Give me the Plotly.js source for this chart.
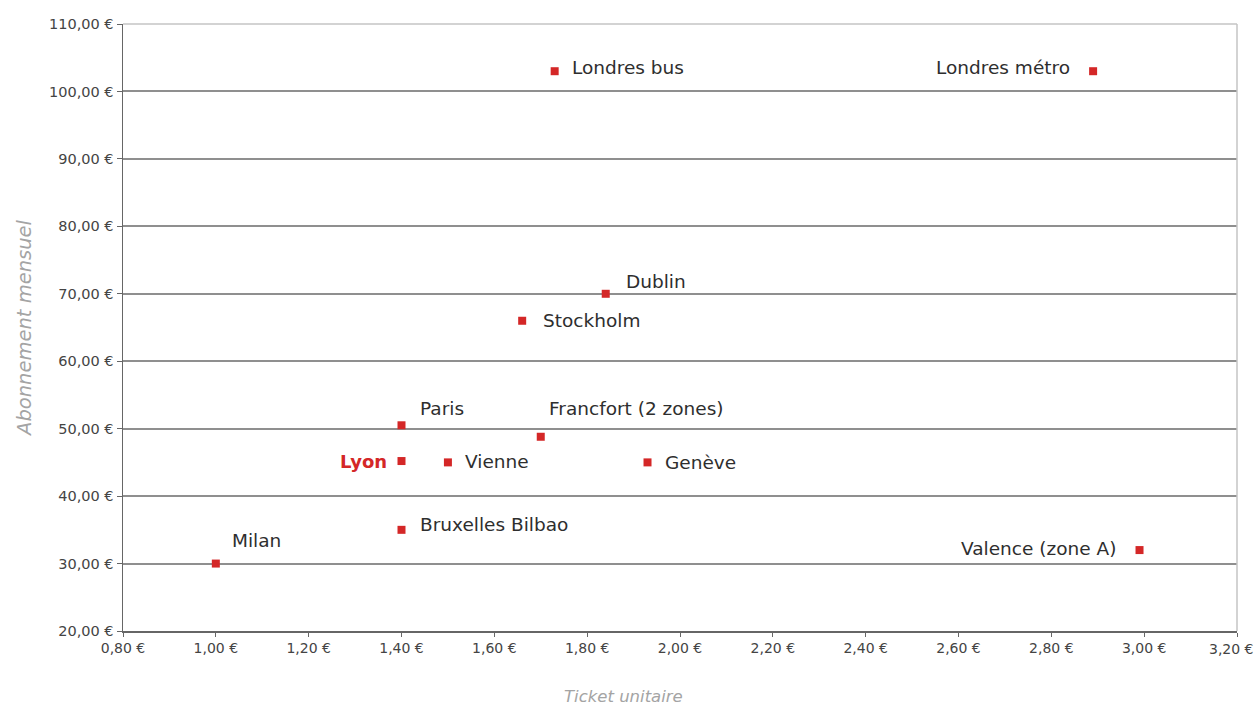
<!DOCTYPE html>
<html>
<head>
<meta charset="utf-8">
<script src="https://cdn.plot.ly/plotly-3.0.1.min.js"></script>
<style>html,body{margin:0;padding:0;background:#fff;}#chart{width:1256px;height:707px;}</style>
</head>
<body>
<div id="chart"></div>
<script>
// Data
const cities = ["Milan", "Bruxelles Bilbao", "Paris", "Lyon", "Vienne", "Francfort (2 zones)", "Genève", "Stockholm", "Dublin", "Londres bus", "Londres métro", "Valence (zone A)"];
const ticketPrice = [1.00, 1.40, 1.40, 1.40, 1.50, 1.70, 1.93, 1.66, 1.84, 1.73, 2.89, 2.99];
const monthlyPass = [30.0, 35.0, 50.5, 45.2, 45.0, 48.8, 45.0, 66.0, 70.0, 103.0, 103.0, 32.0];
const xTickVals = [0.8, 1.0, 1.2, 1.4, 1.6, 1.8, 2.0, 2.2, 2.4, 2.6, 2.8, 3.0, 3.2];
const yTickVals = [20, 30, 40, 50, 60, 70, 80, 90, 100, 110];

// Label placement (style only)
const labelPlacement = [
  {anchor: "left", dx: 14, dy: 23},
  {anchor: "left", dx: 16, dy: 5},
  {anchor: "left", dx: 16, dy: 17},
  {anchor: "right", dx: -13, dy: 0, highlight: true},
  {anchor: "left", dx: 15, dy: 1},
  {anchor: "left", dx: 6, dy: 28},
  {anchor: "left", dx: 15, dy: 0},
  {anchor: "left", dx: 19, dy: 0},
  {anchor: "left", dx: 18, dy: 12},
  {anchor: "left", dx: 15, dy: 4},
  {anchor: "right", dx: -21, dy: 4},
  {anchor: "right", dx: -22, dy: 2}
];

function euro(v) {
  return v.toFixed(2).replace(".", ",") + " €";
}

const FONT = "DejaVu Sans, Arial, sans-serif";
const lastX = xTickVals.length - 1;

const trace = {
  type: "scatter",
  mode: "markers",
  x: ticketPrice,
  y: monthlyPass,
  marker: {symbol: "square", size: 8, color: "#d42727"},
  hoverinfo: "skip",
  showlegend: false
};

const annotations = cities.map((c, i) => {
  const p = labelPlacement[i];
  return {
    x: ticketPrice[i], y: monthlyPass[i], xref: "x", yref: "y",
    text: p.highlight ? "<b>" + c + "</b>" : c,
    showarrow: false,
    xanchor: p.anchor, yanchor: "middle",
    xshift: p.dx, yshift: p.dy,
    font: {family: FONT, size: p.highlight ? 18 : 18.5, color: p.highlight ? "#d42727" : "#2e2e2e"}
  };
});

// last x tick label, kept inside the page edge
annotations.push({
  xref: "paper", yref: "paper", x: 1, y: 0,
  xanchor: "right", yanchor: "top", xshift: 19, yshift: -8,
  showarrow: false,
  text: euro(xTickVals[lastX]),
  font: {family: FONT, size: 14, color: "#444444"}
});

annotations.push({
  xref: "paper", yref: "paper", x: 0.449, y: -0.108,
  xanchor: "center", yanchor: "middle", showarrow: false,
  text: "<i>Ticket unitaire</i>",
  font: {family: FONT, size: 16.5, color: "#a4a4a4"}
});

const layout = {
  width: 1256, height: 707,
  margin: {l: 123, r: 19, t: 24, b: 76},
  paper_bgcolor: "#ffffff",
  plot_bgcolor: "#ffffff",
  showlegend: false,
  xaxis: {
    range: [0.8, 3.2],
    tickvals: xTickVals,
    ticktext: xTickVals.map((v, i) => i === lastX ? " " : euro(v)),
    showgrid: false,
    zeroline: false,
    showline: true, linecolor: "#666666", linewidth: 1.5,
    ticks: "outside", ticklen: 4, tickcolor: "#666666", tickwidth: 1,
    tickfont: {family: FONT, size: 14, color: "#444444"}
  },
  yaxis: {
    range: [20, 110],
    tickvals: yTickVals,
    ticktext: yTickVals.map(euro),
    showgrid: true, gridcolor: "#8f8f8f", gridwidth: 2,
    zeroline: false,
    showline: true, linecolor: "#666666", linewidth: 1.5,
    ticks: "outside", ticklen: 5, tickcolor: "#666666", tickwidth: 1,
    tickfont: {family: FONT, size: 14.5, color: "#444444"},
    title: {text: "<i>Abonnement mensuel</i>", font: {family: FONT, size: 19.5, color: "#a4a4a4"}, standoff: 12}
  },
  shapes: [
    {type: "line", xref: "paper", yref: "paper", x0: 0, x1: 1, y0: 1, y1: 1, line: {color: "#c4c4c4", width: 1.5}, layer: "above"},
    {type: "line", xref: "paper", yref: "paper", x0: 1, x1: 1, y0: 0, y1: 1, line: {color: "#c4c4c4", width: 1.5}, layer: "above"}
  ],
  annotations: annotations
};

Plotly.newPlot("chart", [trace], layout, {displayModeBar: false, staticPlot: true});
</script>
</body>
</html>
